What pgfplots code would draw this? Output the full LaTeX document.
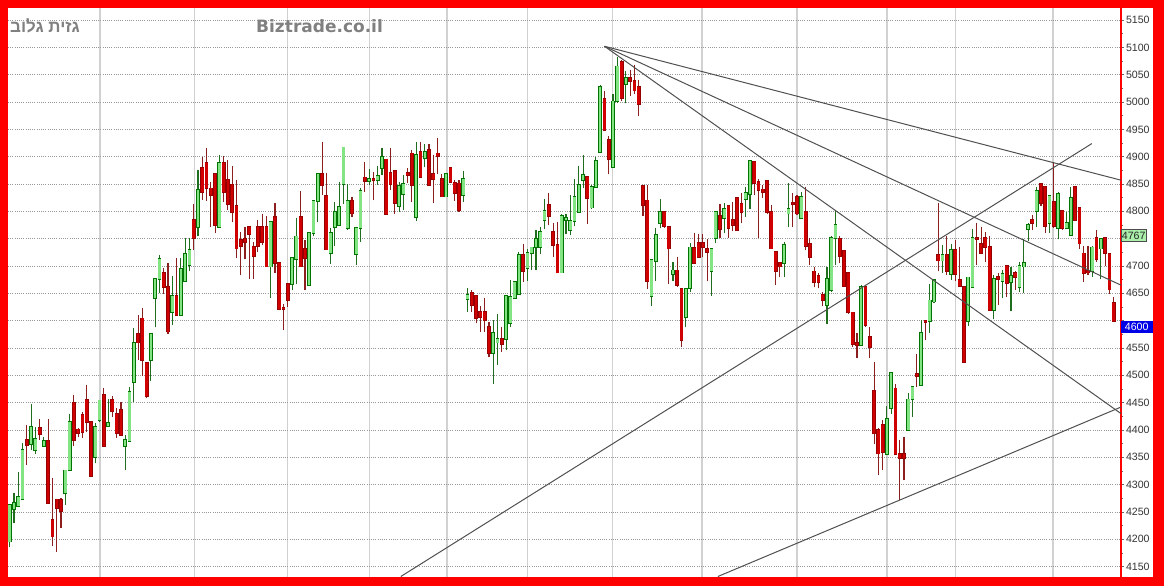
\documentclass[border=0pt]{standalone}
\usepackage{fontspec}
\usepackage{pgfplots}
\usepackage{pgfplotstable}
\pgfplotsset{compat=1.18}
\setmainfont{Liberation Sans}
\newfontfamily\hebfont[Script=Hebrew]{Liberation Sans}
\newfontfamily\titlefont{DejaVu Sans}
\TeXXeTstate=1
\pgfdeclarelayer{background}
\pgfsetlayers{background,main}

\definecolor{framered}{RGB}{255,0,0}
\definecolor{upfill}{RGB}{130,228,130}
\definecolor{upline}{RGB}{0,115,0}
\definecolor{upwick}{RGB}{30,110,30}
\definecolor{dnfill}{RGB}{208,0,0}
\definecolor{dnline}{RGB}{150,0,0}
\definecolor{dnwick}{RGB}{140,30,30}
\definecolor{trend}{RGB}{80,80,80}
\definecolor{titlegray}{RGB}{128,128,128}
\definecolor{boxgreen}{RGB}{170,240,170}
\definecolor{boxblue}{RGB}{0,0,230}

\newcommand\tickfont{\fontsize{10.6}{12}\selectfont}

% daily candles: index, open, high, low, close
\pgfplotstableread{
i o h l c
0 4196 4265 4186 4263
1 4255 4284 4229 4266
2 4261 4324 4260 4278
3 4273 4376 4272 4363
5 4374 4448 4363 4405
6 4363 4405 4356 4384
8 4371 4388 4370 4380
13 4284 4326 4263 4326
14 4326 4430 4326 4415
20 4351 4412 4339 4405
21 4418 4454 4415 4454
23 4407 4456 4406 4413
27 4371 4391 4327 4382
28 4380 4478 4380 4470
29 4488 4586 4452 4560
33 4528 4576 4490 4576
34 4641 4676 4588 4676
35 4676 4720 4650 4713
38 4615 4682 4592 4645
40 4610 4714 4610 4694
41 4673 4752 4673 4722
42 4702 4752 4690 4729
44 4771 4876 4754 4839
49 4772 4903 4772 4889
61 4699 4781 4641 4781
66 4667 4714 4656 4714
67 4712 4787 4668 4754
70 4665 4761 4665 4761
71 4761 4819 4754 4819
72 4819 4868 4781 4868
75 4723 4769 4704 4761
76 4772 4818 4737 4799
77 4775 4854 4775 4808
78 4850 4917 4813 4917
79 4769 4850 4766 4819
81 4722 4769 4702 4769
82 4769 4842 4744 4838
84 4856 4877 4848 4859
86 4857 4883 4848 4865
87 4879 4915 4866 4900
91 4810 4854 4799 4846
92 4832 4866 4802 4850
95 4790 4926 4783 4903
97 4897 4924 4882 4909
102 4827 4868 4827 4868
106 4830 4874 4818 4859
107 4639 4659 4616 4647
113 4541 4601 4484 4577
114 4560 4613 4519 4566
116 4566 4645 4546 4645
117 4595 4674 4589 4644
118 4641 4671 4641 4671
119 4649 4726 4647 4720
121 4696 4732 4673 4724
122 4723 4734 4693 4734
123 4734 4766 4693 4749
124 4735 4771 4722 4762
125 4784 4823 4767 4801
129 4688 4796 4687 4791
130 4784 4795 4758 4788
131 4765 4830 4757 4782
132 4782 4860 4773 4826
133 4799 4883 4799 4849
134 4858 4903 4843 4866
136 4807 4849 4804 4844
137 4844 4899 4844 4892
138 4909 5032 4909 5027
141 4881 5014 4881 5001
142 5001 5082 4998 5065
144 5033 5057 4998 5044
150 4645 4712 4627 4711
151 4709 4769 4673 4757
152 4779 4822 4769 4799
155 4686 4708 4673 4692
158 4606 4660 4588 4658
159 4660 4743 4653 4734
164 4691 4731 4645 4731
165 4751 4799 4743 4799
167 4788 4816 4761 4805
172 4822 4844 4790 4834
173 4832 4894 4805 4893
181 4705 4744 4680 4738
182 4796 4851 4772 4805
185 4787 4836 4787 4826
191 4629 4699 4594 4677
192 4656 4754 4653 4752
193 4751 4802 4702 4775
199 4555 4665 4555 4662
205 4356 4443 4354 4420
206 4440 4505 4429 4505
210 4400 4468 4400 4456
211 4456 4479 4424 4479
213 4482 4601 4482 4578
215 4600 4667 4577 4637
216 4635 4677 4633 4674
218 4710 4738 4688 4720
220 4685 4741 4675 4730
224 4600 4679 4590 4679
225 4661 4767 4661 4751
230 4620 4684 4603 4676
232 4673 4692 4641 4685
234 4671 4699 4618 4682
236 4661 4708 4653 4700
237 4699 4749 4651 4705
238 4768 4778 4746 4775
240 4801 4845 4771 4838
243 4779 4828 4761 4828
245 4769 4835 4749 4832
247 4769 4799 4769 4779
248 4757 4845 4757 4824
253 4690 4737 4680 4734
255 4732 4749 4677 4749
}\candlesUp

\pgfplotstableread{
i o h l c
4 4382 4409 4336 4373
7 4404 4420 4382 4393
9 4380 4420 4266 4266
10 4235 4312 4187 4205
11 4273 4273 4177 4257
12 4272 4275 4220 4251
15 4449 4464 4370 4382
16 4401 4403 4387 4394
17 4427 4433 4385 4397
18 4455 4482 4397 4415
19 4415 4415 4316 4316
22 4464 4476 4371 4371
24 4455 4462 4424 4434
25 4430 4440 4385 4394
26 4437 4452 4391 4391
30 4575 4610 4528 4560
31 4604 4623 4498 4528
32 4522 4522 4458 4462
36 4687 4696 4649 4662
37 4662 4705 4576 4580
39 4645 4714 4610 4610
43 4784 4814 4730 4751
45 4879 4900 4821 4836
46 4889 4915 4819 4842
47 4842 4854 4771 4829
48 4868 4868 4761 4775
50 4889 4901 4818 4835
51 4857 4894 4802 4813
52 4848 4883 4781 4799
53 4810 4857 4714 4732
54 4748 4763 4683 4737
55 4749 4772 4712 4744
56 4771 4771 4676 4758
57 4735 4744 4677 4718
58 4771 4784 4726 4737
59 4771 4796 4738 4744
60 4771 4791 4699 4699
62 4790 4815 4687 4706
63 4706 4706 4619 4622
64 4624 4631 4583 4622
65 4668 4668 4625 4638
68 4789 4838 4699 4699
69 4732 4748 4656 4714
73 4868 4927 4830 4848
74 4828 4871 4730 4730
80 4819 4827 4790 4796
83 4862 4891 4836 4856
85 4860 4872 4820 4857
88 4895 4895 4795 4795
89 4871 4915 4839 4850
90 4874 4874 4795 4815
93 4871 4879 4851 4866
94 4906 4912 4818 4848
96 4909 4927 4863 4863
98 4912 4924 4848 4848
99 4869 4903 4816 4859
100 4906 4934 4869 4901
101 4860 4869 4827 4827
103 4879 4879 4851 4854
104 4852 4857 4819 4833
105 4851 4857 4799 4802
108 4650 4656 4615 4629
109 4646 4646 4595 4604
110 4616 4626 4580 4607
111 4616 4641 4580 4601
112 4589 4598 4533 4541
115 4566 4589 4543 4558
120 4720 4741 4671 4690
126 4812 4833 4775 4791
127 4763 4778 4717 4738
128 4738 4781 4688 4688
135 4863 4863 4777 4824
139 5006 5021 4948 4948
140 4930 4938 4868 4895
143 5073 5077 5001 5007
145 5044 5059 5011 5038
146 5038 5068 5015 5021
147 5027 5041 4974 4997
148 4846 4846 4791 4812
149 4820 4849 4658 4673
153 4799 4799 4770 4773
154 4771 4773 4668 4732
156 4692 4717 4662 4665
157 4658 4658 4552 4565
160 4733 4761 4704 4706
161 4743 4759 4716 4717
162 4743 4759 4716 4734
163 4731 4749 4672 4726
166 4791 4813 4752 4767
168 4810 4810 4752 4770
169 4784 4818 4764 4775
170 4824 4824 4764 4765
171 4813 4834 4779 4798
174 4891 4891 4830 4852
175 4854 4860 4751 4839
176 4840 4848 4824 4836
177 4856 4856 4795 4799
178 4799 4812 4732 4732
179 4726 4726 4665 4691
180 4706 4706 4679 4699
183 4816 4834 4771 4813
184 4826 4830 4793 4796
186 4799 4844 4729 4737
187 4741 4751 4702 4717
188 4690 4699 4661 4670
189 4682 4687 4659 4671
190 4647 4653 4627 4637
194 4749 4754 4705 4718
195 4728 4728 4662 4663
196 4687 4687 4613 4615
197 4615 4615 4552 4557
198 4559 4577 4531 4555
200 4662 4665 4589 4592
201 4571 4589 4531 4552
202 4472 4525 4375 4394
203 4400 4403 4318 4357
204 4409 4418 4327 4360
207 4476 4485 4356 4356
208 4357 4382 4272 4348
209 4356 4388 4308 4348
212 4502 4539 4479 4499
214 4600 4601 4565 4597
217 4720 4815 4690 4710
219 4720 4755 4683 4691
221 4729 4747 4673 4685
222 4674 4735 4663 4663
223 4661 4661 4523 4524
226 4751 4778 4702 4749
227 4741 4772 4722 4724
228 4751 4763 4708 4735
229 4735 4754 4620 4620
231 4680 4687 4629 4676
233 4700 4700 4644 4669
235 4688 4691 4656 4680
239 4784 4793 4766 4779
241 4850 4850 4809 4815
242 4844 4844 4761 4773
244 4818 4889 4769 4773
246 4801 4801 4766 4769
249 4844 4844 4783 4784
250 4806 4806 4732 4741
251 4723 4737 4671 4687
252 4691 4737 4683 4688
254 4751 4766 4708 4712
256 4751 4752 4700 4724
257 4722 4723 4649 4657
258 4633 4644 4600 4600
}\candlesDn

\pgfplotsset{
  candle part/.style n args={2}{draw=none, mark=none, forget plot,
    error bars/.cd, y dir=plus, y explicit, error mark=none,
    error bar style={draw=#1, line width=#2, line cap=butt, solid}},
}

\begin{document}
\begin{tikzpicture}[x=1pt,y=1pt]
\begin{axis}[
  scale only axis, width=1113pt, height=568.5pt,
  xmin=-0.397, xmax=259.71, ymin=4132, ymax=5172,
  axis x line*=bottom, axis y line*=right,
  x axis line style={draw=none},
  y axis line style={draw=framered, line width=2pt},
  axis line style={-},
  xtick={21.1,43.1,65.0,84.0,102.2,121.1,140.8,161.8,184.0,205.0,221.1,243.8},
  xticklabels={}, xtick style={draw=none},
  xmajorgrids, major x grid style={draw=black!18, line width=1.2pt},
  ytick={4150,4200,...,5150},
  yticklabels={4150,4200,4250,4300,4350,4400,4450,4500,4550,,4650,4700,,4800,4850,4900,4950,5000,5050,5100,5150},
  minor y tick num=1,
  ymajorgrids, major y grid style={draw=black!40, line width=0.9pt, dash pattern=on 1pt off 1.2pt},
  tick align=outside, major tick length=3pt, minor tick length=2pt,
  ytick style={draw=black!60, line width=0.8pt},
  /pgf/number format/assume math mode=true,
  y tick label style={font=\tickfont, text=black!80, xshift=-1.5pt},
  clip=true,
]
% wicks
\addplot[candle part={upwick}{1.1pt}] table[x=i, y=l, y error plus expr=\thisrow{h}-\thisrow{l}] {\candlesUp};
\addplot[candle part={dnwick}{1.1pt}] table[x=i, y=l, y error plus expr=\thisrow{h}-\thisrow{l}] {\candlesDn};
% body outlines
\addplot[candle part={upline}{3.8pt}] table[x=i, y expr=\thisrow{o}-1.6, y error plus expr=\thisrow{c}-\thisrow{o}+3.2] {\candlesUp};
\addplot[candle part={dnline}{3.8pt}] table[x=i, y expr=\thisrow{c}-1.6, y error plus expr=\thisrow{o}-\thisrow{c}+3.2] {\candlesDn};
% body fills
\addplot[candle part={upfill}{2.5pt}] table[x=i, y=o, y error plus expr=\thisrow{c}-\thisrow{o}] {\candlesUp};
\addplot[candle part={dnfill}{2.5pt}] table[x=i, y=c, y error plus expr=\thisrow{o}-\thisrow{c}] {\candlesDn};
% trend lines
\addplot[trend, line width=1pt, forget plot] coordinates {(139.0,5102) (259.71,4857)};
\addplot[trend, line width=1pt, forget plot] coordinates {(139.0,5102) (259.71,4665)};
\addplot[trend, line width=1pt, forget plot] coordinates {(139.0,5102) (259.71,4430)};
\addplot[trend, line width=1pt, forget plot] coordinates {(91.4,4132) (252.9,4924)};
\addplot[trend, line width=1pt, forget plot] coordinates {(165.5,4132) (259.71,4442)};
\coordinate (axSW) at (rel axis cs:0,0);
\coordinate (lastA) at (axis cs:259.71,4767);
\coordinate (lastB) at (axis cs:259.71,4600);
\end{axis}
\node[anchor=north west, fill=boxgreen, draw=black!70, line width=0.6pt, inner xsep=0.6pt, inner ysep=1pt,
      minimum width=24pt, minimum height=12pt, font=\tickfont, text=black!85] at (lastA) {4767};
\node[anchor=north west, fill=boxblue, draw=boxblue, inner xsep=0.6pt, inner ysep=1pt,
      minimum width=31pt, minimum height=11.5pt, font=\tickfont, text=white] at (lastB) {4600};
\begin{scope}[shift={(axSW)}]
  \begin{pgfonlayer}{background}
    \fill[framered] (-8,-9.5) rectangle (1156,576.5);
    \fill[white] (0,-0.5) rectangle (1145,568.5);
  \end{pgfonlayer}
  \node[anchor=base west, inner sep=0, text=titlegray, font=\titlefont\bfseries\fontsize{17}{20}\selectfont] at (248,544) {Biztrade.co.il};
  \node[anchor=base west, inner sep=0, text=titlegray] at (2,544) {\hebfont\bfseries\fontsize{17}{20}\selectfont\beginR גזית גלוב\endR};
\end{scope}
\end{tikzpicture}
\end{document}
